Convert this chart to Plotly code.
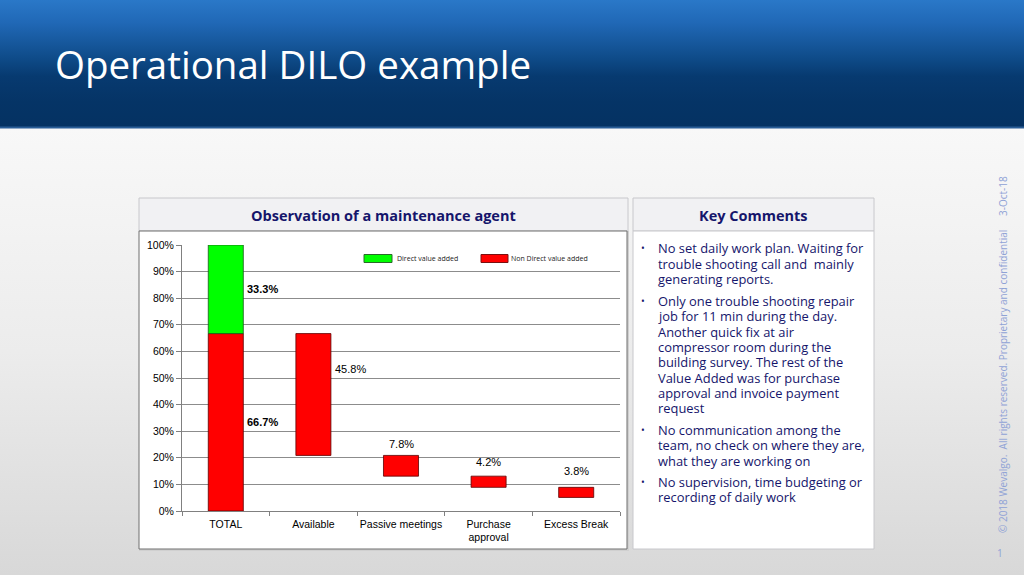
import base64
import plotly.graph_objects as go

# ---------------- data ----------------
categories = ["TOTAL", "Available", "Passive meetings", "Purchase<br>approval", "Excess Break"]
direct_value_added = [33.3]                     # only TOTAL
non_direct_value_added = [66.7, 45.8, 7.8, 4.2, 3.8]
y_tick_values = [0, 10, 20, 30, 40, 50, 60, 70, 80, 90, 100]
y_tick_labels = [f"{v}%" for v in y_tick_values]

title_text = "Operational DILO example"
chart_title = "Observation of a maintenance agent"
comments_title = "Key Comments"
comments = [
    ["No set daily work plan. Waiting for", "trouble shooting call and  mainly", "generating reports."],
    ["Only one trouble shooting repair", "job for 11 min during the day.", "Another quick fix at air",
     "compressor room during the", "building survey. The rest of the", "Value Added was for purchase",
     "approval and invoice payment", "request"],
    ["No communication among the", "team, no check on where they are,", "what they are working on"],
    ["No supervision, time budgeting or", "recording of daily work"],
]
footer_text = "© 2018 Wevalgo.  All rights reserved. Proprietary and confidential"
footer_date = "3-Oct-18"
page_number = "1"

# waterfall bases (derived from the data)
bases = [0.0]
top = non_direct_value_added[0]
for v in non_direct_value_added[1:]:
    b = round(top - v, 2)
    bases.append(b)
    top = b

W, H = 1024, 575


def px(x):
    return x / W


def py(y):
    return 1 - y / H


def grad_uri(stops):
    st = "".join(f"<stop offset='{o}' stop-color='{c}'/>" for o, c in stops)
    svg = ("<svg xmlns='http://www.w3.org/2000/svg' width='100' height='100' viewBox='0 0 100 100' "
           "preserveAspectRatio='none'><defs><linearGradient id='g' x1='0' y1='0' x2='0' y2='1'>"
           f"{st}</linearGradient></defs><rect x='0' y='0' width='100' height='100' fill='url(#g)'/></svg>")
    return "data:image/svg+xml;base64," + base64.b64encode(svg.encode()).decode()


images = [
    dict(source=grad_uri([(0, "#f8f8f8"), (0.5, "#ececec"), (1, "#d8d8d8")]),
         xref="paper", yref="paper", x=0, y=py(128), sizex=1, sizey=(H - 128) / H,
         xanchor="left", yanchor="top", sizing="stretch", layer="below"),
    dict(source=grad_uri([(0, "#2a78c8"), (0.18, "#2068b6"), (0.45, "#0f4c8a"), (0.6, "#073a70"),
                          (0.8, "#053466"), (1, "#053262")]),
         xref="paper", yref="paper", x=0, y=1, sizex=1, sizey=127 / H,
         xanchor="left", yanchor="top", sizing="stretch", layer="below"),
]

shapes = []


def rect(x0, y0, x1, y1, fill, line_color=None, lw=1, layer="below"):
    shapes.append(dict(type="rect", xref="paper", yref="paper", layer=layer,
                       x0=px(x0), x1=px(x1), y0=py(y1), y1=py(y0),
                       fillcolor=fill,
                       line=dict(width=lw if line_color else 0, color=line_color or "rgba(0,0,0,0)")))


rect(0, 126.5, W, 128.5, "#2a5d96")

# chart panel
rect(139, 198, 628, 231, "#f1f1f3", "#c8c8cc", 1)
rect(139, 231, 629, 551, "#d0d0d0")
rect(139, 231, 627, 549, "#ffffff", "#6e6e6e", 1)
# comments panel
rect(633, 198, 874, 231, "#f1f1f3", "#c8c8cc", 1)
rect(633, 231, 874, 549, "#ffffff", "#c8c8cc", 1)

# legend boxes
rect(364, 254.5, 392, 262.5, "#00ff00", "#2a6a2a", 1, layer="above")
rect(481, 254.5, 508, 262.5, "#ff0000", "#7a1010", 1, layer="above")

fig = go.Figure()
fig.add_trace(go.Bar(
    x=categories, y=non_direct_value_added, base=bases,
    marker=dict(color="#ff0000", line=dict(color="#5a0000", width=0.8)),
    width=0.4, name="Non Direct value added", showlegend=False, hoverinfo="skip"))
fig.add_trace(go.Bar(
    x=categories[:1], y=direct_value_added, base=[non_direct_value_added[0]],
    marker=dict(color="#00ff00", line=dict(color="#1a5a1a", width=0.8)),
    width=0.4, name="Direct value added", showlegend=False, hoverinfo="skip"))

annotations = []
navy = "#15156b"

# data labels (positions are style)
lab_font = dict(family="Liberation Sans, Arial", size=11, color="#000000")
annotations.append(dict(x=0.22, y=non_direct_value_added[0] + direct_value_added[0] / 2, xref="x", yref="y",
                        text=f"<b>{direct_value_added[0]:.1f}%</b>", showarrow=False, xanchor="left",
                        font=lab_font))
annotations.append(dict(x=0.22, y=non_direct_value_added[0] / 2, xref="x", yref="y",
                        text=f"<b>{non_direct_value_added[0]:.1f}%</b>", showarrow=False, xanchor="left",
                        font=lab_font))
label_style = [(1.22, 53.4, "left"), (2, 25.2, "center"), (3, 18.4, "center"), (4, 15.0, "center")]
for v, (lx, ly, anc) in zip(non_direct_value_added[1:], label_style):
    annotations.append(dict(x=lx, y=ly, xref="x", yref="y", text=f"{v:.1f}%", showarrow=False,
                            xanchor=anc, font=lab_font))

# legend text
annotations.append(dict(x=px(395), y=py(258.5), xref="paper", yref="paper", text="Direct value added",
                        showarrow=False, xanchor="left", yanchor="middle",
                        font=dict(family="Open Sans", size=7, color="#222222")))
annotations.append(dict(x=px(509), y=py(258.5), xref="paper", yref="paper", text="Non Direct value added",
                        showarrow=False, xanchor="left", yanchor="middle",
                        font=dict(family="Open Sans", size=7, color="#222222")))

# titles
annotations.append(dict(x=px(53), y=py(64), xref="paper", yref="paper", text=title_text, showarrow=False,
                        xanchor="left", yanchor="middle",
                        font=dict(family="Open Sans", size=38.5, color="#ffffff")))
annotations.append(dict(x=px(383), y=py(215), xref="paper", yref="paper", text=f"<b>{chart_title}</b>",
                        showarrow=False, xanchor="center", yanchor="middle",
                        font=dict(family="Open Sans", size=14.5, color=navy)))
annotations.append(dict(x=px(753), y=py(215), xref="paper", yref="paper", text=f"<b>{comments_title}</b>",
                        showarrow=False, xanchor="center", yanchor="middle",
                        font=dict(family="Open Sans", size=14.5, color=navy)))

# comments: one annotation per line for exact spacing
para_y = [248.3, 301, 430, 481.7]
line_gap = 15.35
for para, yy in zip(comments, para_y):
    annotations.append(dict(x=px(643), y=py(yy), xref="paper", yref="paper", text="•", showarrow=False,
                            xanchor="center", yanchor="middle",
                            font=dict(family="Open Sans", size=10, color=navy)))
    for i, line in enumerate(para):
        annotations.append(dict(x=px(655.5), y=py(yy + i * line_gap), xref="paper", yref="paper", text=line,
                                showarrow=False, xanchor="left", yanchor="middle", align="left",
                                font=dict(family="Open Sans", size=12.9, color=navy)))

# footer (vertical)
foot_color = "#8fa2d6"
annotations.append(dict(x=px(1003), y=py(382), xref="paper", yref="paper", text=footer_text, showarrow=False,
                        textangle=-90, xanchor="center", yanchor="middle",
                        font=dict(family="Open Sans", size=10, color=foot_color)))
annotations.append(dict(x=px(1003), y=py(196), xref="paper", yref="paper", text=footer_date, showarrow=False,
                        textangle=-90, xanchor="center", yanchor="middle",
                        font=dict(family="Open Sans", size=10, color=foot_color)))
annotations.append(dict(x=px(1000), y=py(553), xref="paper", yref="paper", text=page_number, showarrow=False,
                        xanchor="center", yanchor="middle",
                        font=dict(family="Open Sans", size=10, color=foot_color)))

fig.update_layout(
    width=W, height=H, autosize=False,
    margin=dict(l=0, r=0, t=0, b=0, pad=0, autoexpand=False),
    paper_bgcolor="#eeeeee",
    plot_bgcolor="rgba(0,0,0,0)",
    barmode="overlay",
    showlegend=False,
    images=images,
    shapes=shapes,
    annotations=annotations,
    xaxis=dict(domain=[px(182), px(620)], type="category", tickson="boundaries", ticks="outside",
               ticklen=4, tickcolor="#808080", showline=True, linecolor="#808080", linewidth=1,
               tickangle=0, showgrid=False, automargin=False, ticklabelstandoff=3,
               tickfont=dict(family="Liberation Sans, Arial", size=10.5, color="#000000"),
               fixedrange=True),
    yaxis=dict(domain=[py(511), py(245)], range=[0, 100], tickvals=y_tick_values, ticktext=y_tick_labels,
               ticks="outside", ticklen=5, tickcolor="#808080", showline=True, linecolor="#808080",
               linewidth=1, showgrid=True, gridcolor="#8c8c8c", gridwidth=1, zeroline=False,
               automargin=False,
               tickfont=dict(family="Liberation Sans, Arial", size=10.5, color="#000000"),
               fixedrange=True),
)

fig.write_html(
    "out.html", config={"displayModeBar": False},
    post_script=("document.documentElement.style.overflow='hidden';"
                 "document.body.style.margin='0';document.body.style.padding='0';"
                 "document.body.style.overflow='hidden';"
                 "var gd=document.getElementById('{plot_id}');"
                 "gd.style.position='absolute';gd.style.top='0px';gd.style.left='0px';"))
